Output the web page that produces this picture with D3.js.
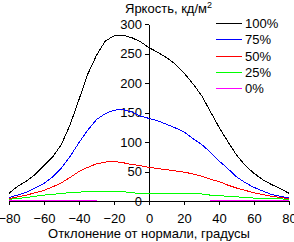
<!DOCTYPE html>
<html>
<head>
<meta charset="utf-8">
<script src="https://cdn.jsdelivr.net/npm/d3@7"></script>
<style>
  body { margin: 0; background: #fff; }
  text { font-family: "Liberation Sans", Arial, sans-serif; font-size: 13px; fill: #000; }
</style>
</head>
<body>
<div id="chart"></div>
<script>
var angles = [-80,-75,-70,-65,-60,-55,-50,-45,-40,-35,-30,-25,-20,-15,-10,-5,0,5,10,15,20,25,30,35,40,45,50,55,60,65,70,75,80];
var lum100 = [13,25,34,45,60,75,96,130,172,215,247,271,280,281,277,270,260,252,243,232,217,199,179,152,125,101,78,60,47,36,28,21,13];
var lum75  = [6,10,15,22,30,41,56,76,99,120,138,148,154,155,151,144,140,136,130,124,117,106,96,83,68,55,41,31,23,17,11,8,5];
var lum50  = [4,7,10,14,18,24,31,40,50,57,63,66,67,65,62,60,57,55,53,51,49,46,42,37,33,27,22,18,14,11,8,6,4];
var lum25  = [3,4,6,8,10,11,13,14,15,16,16.5,16.5,16.5,16,14,13,13,13,13,13,13,13,12,10,9,8,7,6,5,5,4,3.5,3];
var lum0   = [1.5,1.5,1.5,1.5,1.5,1.5,1.5,1.5,1.5,1.5,0,0,0,0,0,0,0,0,0,0,0,0,0,0,1.5,1.5,1.5,1.5,1.5,1.5,1.5,1.5,1.5];
var xTicks = [-80,-60,-40,-20,0,20,40,60,80];
var yTicks = [0,50,100,150,200,250,300];
var legendNames = ["100%","75%","50%","25%","0%"];
var colors = ["#000000","#0000ff","#ff0000","#00ff00","#ff00ff"];
var allSeries = [lum100, lum75, lum50, lum25, lum0];

var svg_width = 294;
var svg_height = 242;

var svg = d3.select("#chart")
    .append("svg")
    .attr("width", svg_width)
    .attr("height", svg_height);

var x = d3.scaleLinear().domain([-80, 80]).range([9, 289]);
var y = d3.scaleLinear().domain([0, 300]).range([201, 24]);

var line = d3.line()
    .x((d, i) => x(angles[i]))
    .y(d => y(d));

// magenta first so the zero line sits over it
svg.append("path")
    .datum(lum0)
    .attr("d", line)
    .attr("fill", "none")
    .attr("stroke", colors[4])
    .attr("stroke-width", 1)
    .style("shape-rendering", "crispEdges");

var xAxis = svg.append("g")
    .attr("transform", "translate(0," + y(0) + ")")
    .call(d3.axisBottom(x).tickValues(xTicks).tickSize(4).tickSizeOuter(0).tickPadding(9));

var yAxis = svg.append("g")
    .attr("transform", "translate(" + x(0) + ",0)")
    .call(d3.axisLeft(y).tickValues(yTicks).tickSize(4).tickSizeOuter(0).tickPadding(3));

svg.selectAll(".domain, .tick line")
    .attr("stroke", "#000")
    .style("shape-rendering", "crispEdges");
svg.selectAll(".tick text")
    .attr("font-family", null)
    .attr("font-size", null)
    .attr("fill", "#000");

// curves, 25% up to 100%
for (var k = 3; k >= 0; k--) {
  svg.append("path")
      .datum(allSeries[k])
      .attr("d", line)
      .attr("fill", "none")
      .attr("stroke", colors[k])
      .attr("stroke-width", 1)
      .style("shape-rendering", "crispEdges");
}

// title
var title = svg.append("text")
    .attr("x", 125)
    .attr("y", 13);
title.append("tspan").text("Яркость, кд/м");
title.append("tspan").text("2").attr("font-size", "9px").attr("dy", -5);

svg.append("text")
    .attr("x", 149)
    .attr("y", 238)
    .attr("text-anchor", "middle")
    .text("Отклонение от нормали, градусы");

// legend
var leg = svg.append("g");
legendNames.forEach(function(name, i) {
  var ly = Math.round(22.7 + i * 16.4) + 0.5;
  leg.append("line")
      .attr("x1", 216).attr("x2", 242)
      .attr("y1", ly).attr("y2", ly)
      .attr("stroke", colors[i])
      .style("shape-rendering", "crispEdges");
  leg.append("text")
      .attr("x", 245)
      .attr("y", ly + 4.5)
      .text(name);
});
</script>
</body>
</html>
